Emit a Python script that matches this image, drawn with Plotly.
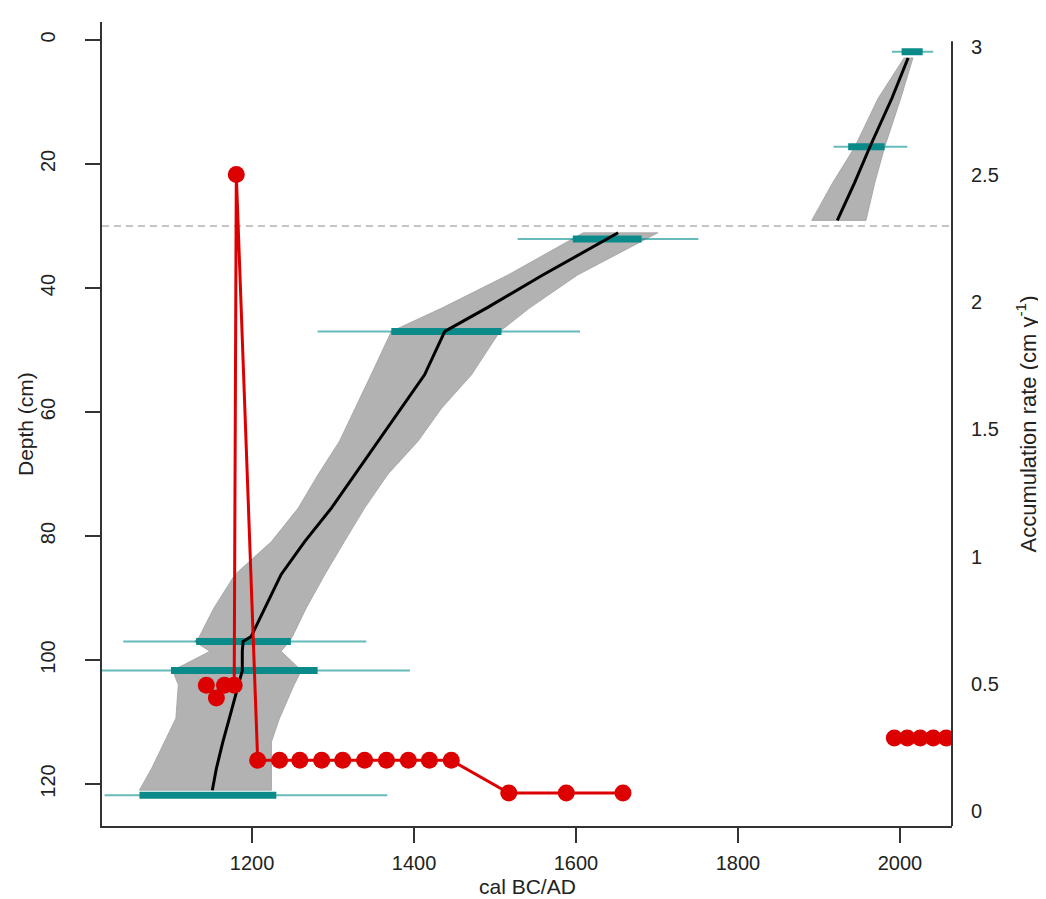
import plotly.graph_objects as go

# ---------------- data ----------------
# upper segment of age-depth model (above hiatus)
top_depth = [2.9, 9.4, 17.3, 23.0, 29.1]
top_lo = [2005, 1973, 1944, 1917, 1891]
top_hi = [2016, 2001, 1981, 1969, 1958]
top_mean = [2010, 1990, 1962.6, 1944, 1922.6]

# lower segment of age-depth model
low_depth = [31.1, 37.9, 43.2, 47.0, 54.0, 59.4, 64.7, 70.0, 75.5, 80.9, 86.2,
             91.6, 96.2, 97.0, 98.6, 101.7, 104.0, 109.4, 113.2, 117.5, 121.0]
low_lo = [1609, 1516, 1435, 1372, 1347, 1327, 1308, 1282, 1257, 1224, 1179,
          1153, 1135, 1129, 1148, 1102, 1109, 1106, 1092, 1076, 1061]
low_hi = [1701, 1602, 1543, 1506, 1471, 1434, 1405, 1368, 1339, 1314, 1290,
          1267, 1250, 1246, 1236, 1261, 1252, 1234, 1224, 1224, 1224]
low_mean = [1652, 1559, 1490, 1438, 1413, 1384, 1356, 1327, 1298, 1265, 1236,
            1216, 1199, 1189, 1188, 1188, 1183, 1172, 1164, 1156, 1151]

# calibrated dates
date_depth = [1.9, 17.2, 32.1, 47.0, 97.0, 101.7, 121.8]
range_lo = [1990, 1918, 1528, 1281, 1041, 1010, 1018]
range_hi = [2041, 2009, 1751, 1605, 1341, 1395, 1367]
core_lo = [2002, 1936, 1596, 1372, 1131, 1100, 1061]
core_hi = [2028, 1981, 1681, 1508, 1248, 1281, 1230]

hiatus_depth = 30

# accumulation rate
acc_age = [1143.6, 1156, 1166, 1178, 1180.6, 1207, 1234, 1259, 1286, 1312,
           1339, 1366, 1393, 1419, 1446, 1517, 1588, 1658]
acc_rate = [0.495, 0.445, 0.495, 0.495, 2.50, 0.20, 0.20, 0.20, 0.20, 0.20,
            0.20, 0.20, 0.20, 0.20, 0.20, 0.072, 0.072, 0.072]
acc_age_top = [1993, 2009, 2025, 2041, 2057]
acc_rate_top = [0.288, 0.288, 0.288, 0.288, 0.288]

x_ticks = [1200, 1400, 1600, 1800, 2000]
depth_ticks = [0, 20, 40, 60, 80, 100, 120]
rate_ticks = [0, 0.5, 1, 1.5, 2, 2.5, 3]
rate_labels = ["0", "0.5", "1", "1.5", "2", "2.5", "3"]

# ---------------- figure ----------------
FONT = "Liberation Sans, Arial, sans-serif"
BAND = "#b2b2b2"
TEAL_THIN = "rgba(0,140,140,0.6)"
TEAL_THICK = "#0b8a8a"
RED = "#dd0000"
X_RANGE = [1014.8, 2064.2]

fig = go.Figure()


def band(depth, lo, hi):
    xs = list(lo) + list(hi)[::-1] + [lo[0]]
    ys = list(depth) + list(depth)[::-1] + [depth[0]]
    fig.add_trace(go.Scatter(x=xs, y=ys, mode="lines", fill="toself",
                             fillcolor=BAND, line=dict(color="#a0a0a0", width=0.8),
                             hoverinfo="skip", showlegend=False))


band(top_depth, top_lo, top_hi)
band(low_depth, low_lo, low_hi)

# hiatus dashed line
fig.add_trace(go.Scatter(x=X_RANGE, y=[hiatus_depth, hiatus_depth], mode="lines",
                         line=dict(color="#c4c4c4", width=2, dash="7px,5px"),
                         hoverinfo="skip", showlegend=False))

# date ranges
tx, ty, kx, ky = [], [], [], []
for d, a, b, c, e in zip(date_depth, range_lo, range_hi, core_lo, core_hi):
    tx += [a, b, None]
    ty += [d, d, None]
    kx += [c, e, None]
    ky += [d, d, None]
fig.add_trace(go.Scatter(x=tx, y=ty, mode="lines", line=dict(color=TEAL_THIN, width=2),
                         hoverinfo="skip", showlegend=False))
fig.add_trace(go.Scatter(x=kx, y=ky, mode="lines", line=dict(color=TEAL_THICK, width=7),
                         hoverinfo="skip", showlegend=False))

# mean age lines
fig.add_trace(go.Scatter(x=top_mean, y=top_depth, mode="lines",
                         line=dict(color="black", width=3), showlegend=False))
fig.add_trace(go.Scatter(x=low_mean, y=low_depth, mode="lines",
                         line=dict(color="black", width=3), showlegend=False))

# accumulation rates
fig.add_trace(go.Scatter(x=acc_age, y=acc_rate, yaxis="y2", mode="lines+markers",
                         line=dict(color=RED, width=3),
                         marker=dict(color=RED, size=17), showlegend=False))
fig.add_trace(go.Scatter(x=acc_age_top, y=acc_rate_top, yaxis="y2", mode="lines+markers",
                         line=dict(color=RED, width=3),
                         marker=dict(color=RED, size=17), showlegend=False))

axis_col = "#333333"
fig.update_layout(
    width=1046, height=899,
    margin=dict(l=94, r=102, t=14, b=81),
    paper_bgcolor="white", plot_bgcolor="white",
    font=dict(family=FONT, size=20, color="#222222"),
    xaxis=dict(range=X_RANGE, tickvals=x_ticks, ticks="outside", ticklen=15,
               tickwidth=2, tickcolor=axis_col, showline=True, linewidth=2,
               linecolor=axis_col, showgrid=False, zeroline=False, automargin=False,
               ticklabelstandoff=3, tickfont=dict(size=20)),
    yaxis=dict(range=[126.77, -2.9], tickvals=depth_ticks, ticks="outside", ticklen=15,
               tickwidth=2, tickcolor=axis_col, showline=True, linewidth=2,
               linecolor=axis_col, showgrid=False, zeroline=False, tickangle=-90,
               automargin=False, ticklabelstandoff=22, tickfont=dict(size=20)),
    yaxis2=dict(range=[-0.0577, 3.099], overlaying="y", side="right",
                tickvals=rate_ticks, ticktext=rate_labels, ticks="",
                showline=False, showgrid=False, zeroline=False, automargin=False,
                ticklabelstandoff=18, tickfont=dict(size=20),
                title=dict(text="Accumulation rate (cm y<sup>-1</sup>)",
                           font=dict(size=22), standoff=22)),
    shapes=[dict(type="line", xref="paper", yref="paper", x0=1, x1=1, y0=0, y1=0.976,
                 line=dict(color=axis_col, width=2))],
    annotations=[
        dict(text="Depth (cm)", xref="paper", yref="paper", x=0, y=0.5, xshift=-77,
             textangle=-90, showarrow=False, font=dict(size=21), xanchor="center",
             yanchor="middle"),
        dict(text="cal BC/AD", xref="paper", yref="paper", x=0.5, y=0, yshift=-60,
             showarrow=False, font=dict(size=21), xanchor="center", yanchor="middle"),
    ],
)

fig.write_html("out.html")
